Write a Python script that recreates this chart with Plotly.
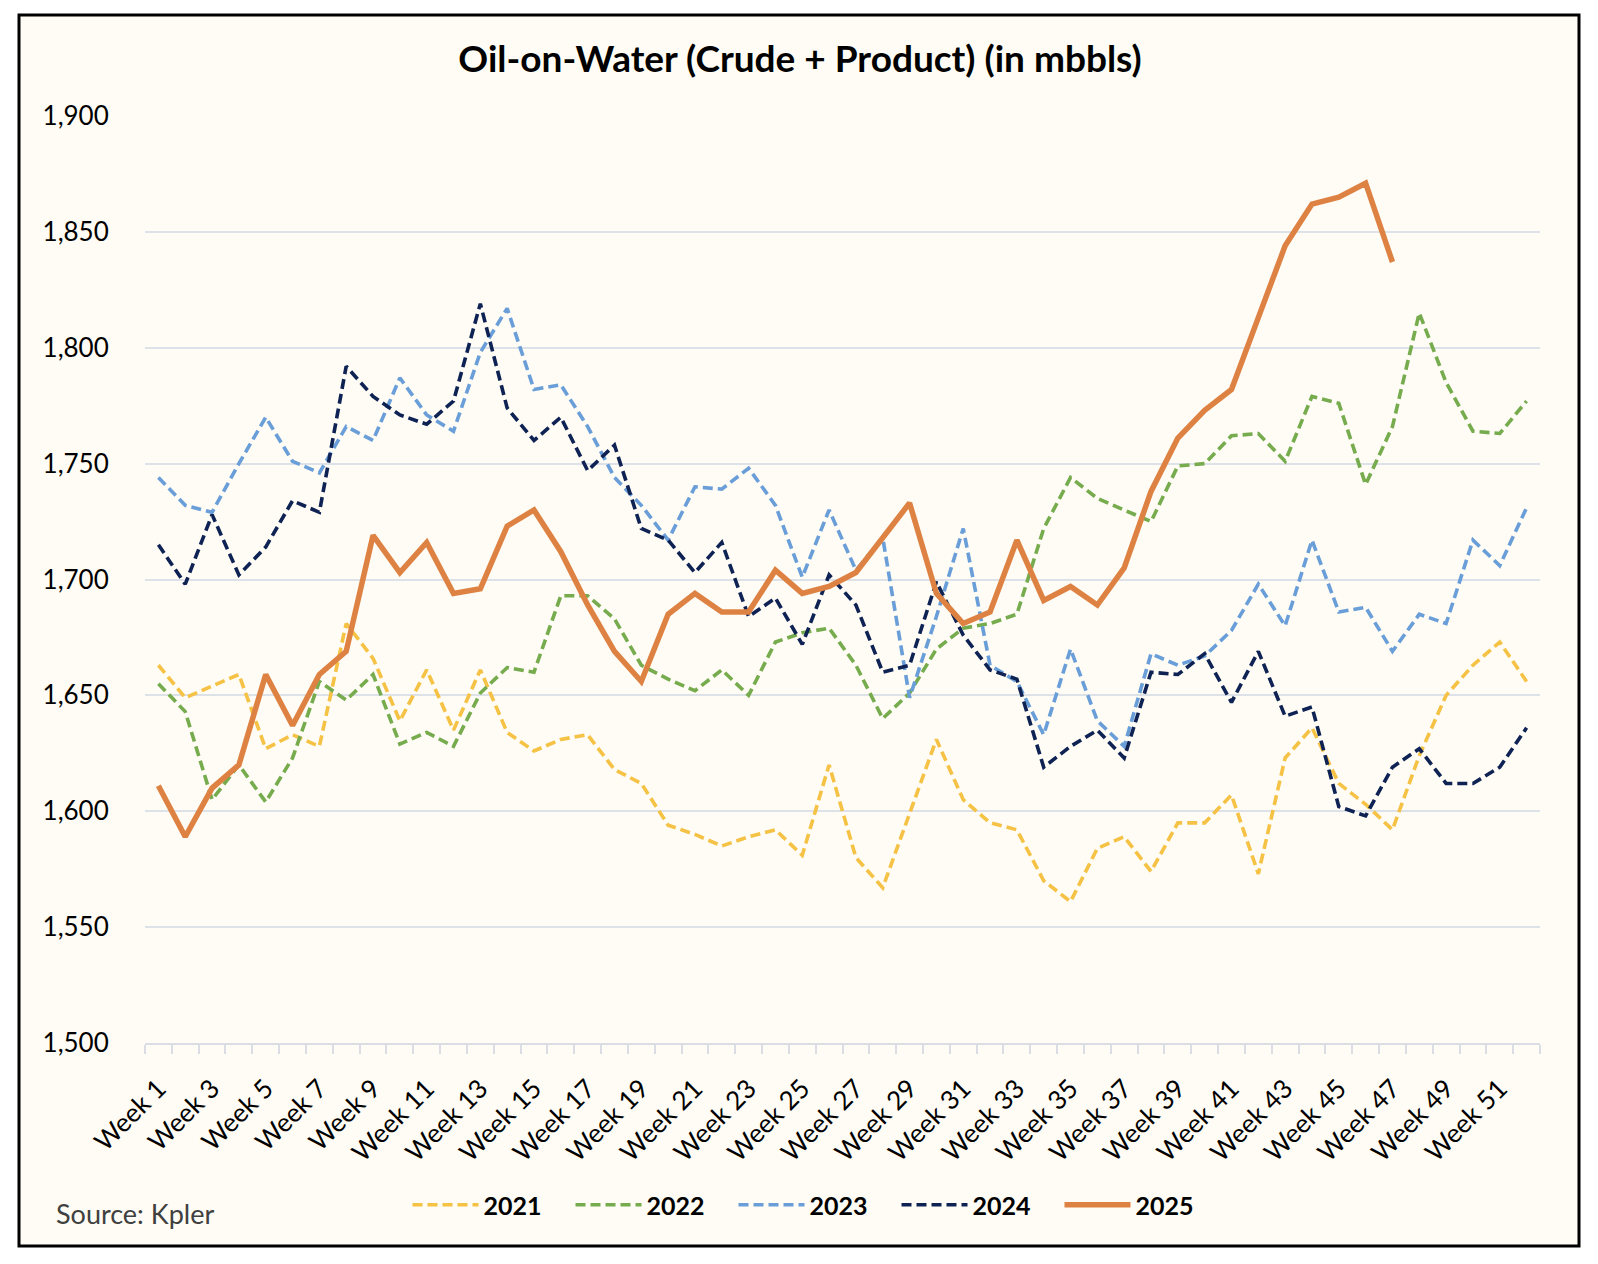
import plotly.graph_objects as go

weeks = [f"Week {i}" for i in range(1, 53)]

y2021 = [1663, 1649, 1654, 1659, 1627, 1633, 1628, 1681, 1666, 1639, 1661, 1635, 1661,
         1634, 1626, 1631, 1633, 1618, 1612, 1594, 1590, 1585, 1589, 1592, 1581, 1620,
         1580, 1567, 1599, 1631, 1605, 1595, 1592, 1570, 1561, 1584, 1589, 1574, 1595,
         1595, 1607, 1573, 1623, 1636, 1612, 1603, 1592, 1624, 1650, 1663, 1673, 1656]
y2022 = [1655, 1643, 1605, 1620, 1604, 1623, 1656, 1648, 1659, 1629, 1634, 1628, 1651,
         1662, 1660, 1693, 1693, 1683, 1663, 1657, 1652, 1661, 1650, 1673, 1677, 1679,
         1663, 1640, 1651, 1670, 1679, 1681, 1685, 1722, 1744, 1735, 1730, 1725, 1749,
         1750, 1762, 1763, 1751, 1779, 1776, 1741, 1766, 1815, 1785, 1764, 1763, 1777]
y2023 = [1744, 1732, 1729, 1750, 1770, 1751, 1746, 1766, 1760, 1787, 1771, 1764, 1798,
         1817, 1782, 1784, 1766, 1744, 1732, 1717, 1740, 1739, 1748, 1732, 1701, 1730,
         1704, 1718, 1649, 1684, 1722, 1663, 1656, 1633, 1670, 1639, 1628, 1668, 1663,
         1667, 1678, 1698, 1680, 1717, 1686, 1688, 1669, 1685, 1681, 1717, 1706, 1731]
y2024 = [1715, 1698, 1728, 1702, 1714, 1734, 1729, 1792, 1779, 1771, 1767, 1777, 1819,
         1774, 1760, 1770, 1747, 1758, 1722, 1717, 1703, 1716, 1684, 1692, 1672, 1702,
         1689, 1660, 1663, 1699, 1676, 1661, 1657, 1619, 1628, 1635, 1623, 1660, 1659,
         1668, 1647, 1669, 1641, 1645, 1602, 1598, 1619, 1627, 1612, 1612, 1619, 1636]
y2025 = [1611, 1589, 1610, 1620, 1659, 1637, 1659, 1669, 1719, 1703, 1716, 1694, 1696,
         1723, 1730, 1712, 1689, 1669, 1656, 1685, 1694, 1686, 1686, 1704, 1694, 1697,
         1703, 1718, 1733, 1694, 1681, 1686, 1717, 1691, 1697, 1689, 1705, 1738, 1761,
         1773, 1782, 1813, 1844, 1862, 1865, 1871, 1837]

series = [
    ("2021", y2021, "#F5C245", "dash"),
    ("2022", y2022, "#76AB4E", "dash"),
    ("2023", y2023, "#6A9ED8", "dash"),
    ("2024", y2024, "#0E2254", "dash"),
    ("2025", y2025, "#DE8243", "solid"),
]

y_ticks = list(range(1500, 1901, 50))
tick_text_x = [w if i % 2 == 0 else "" for i, w in enumerate(weeks)]

FONT = "Lato"
CREAM = "#FEFCF4"

fig = go.Figure()
for name, vals, color, style in series:
    if style == "dash":
        line = dict(color=color, width=3.6, dash="10px,5px")
    else:
        line = dict(color=color, width=5.5)
    fig.add_trace(go.Scatter(
        x=weeks[:len(vals)], y=vals, name=name, mode="lines", line=line,
    ))

# page has an 8px body margin: lay out in page pixels, offset by 8
OFF = 8
W, H = 1598 - OFF, 1264 - OFF
L, T = 145 - OFF, 116 - OFF
R = W - (1540 - OFF)
B = H - (1043 - OFF)
pw, ph = W - L - R, H - T - B


def px_x(px):
    return (px - OFF - L) / pw


def px_y(py):
    return (H - B - (py - OFF)) / ph


fig.add_shape(type="rect", xref="paper", yref="paper",
              x0=px_x(19), x1=px_x(1579), y0=px_y(1246), y1=px_y(15),
              line=dict(color="black", width=3), fillcolor=CREAM, layer="below")

fig.add_annotation(text="Source: Kpler", xref="paper", yref="paper",
                   x=px_x(54), y=px_y(1213), xanchor="left", yanchor="middle",
                   showarrow=False, font=dict(family=FONT, size=27, color="#404040"))

fig.update_layout(
    width=W, height=H,
    margin=dict(l=L, r=R, t=T, b=B, autoexpand=False),
    paper_bgcolor="white",
    plot_bgcolor="rgba(0,0,0,0)",
    title=dict(text="<b>Oil-on-Water (Crude + Product) (in mbbls)</b>",
               x=px_x(800), xref="paper", xanchor="center",
               y=1 - (59 - OFF) / H, yref="container", yanchor="middle",
               font=dict(family=FONT, size=37, color="black")),
    font=dict(family=FONT, size=26, color="black"),
    legend=dict(orientation="h", x=px_x(815), xanchor="center",
                y=px_y(1205), yanchor="middle",
                font=dict(family=FONT, size=25, color="black", weight="bold"),
                itemwidth=66, bgcolor="rgba(0,0,0,0)", entrywidth=82),
    xaxis=dict(
        type="category", tickmode="array", tickvals=weeks, ticktext=tick_text_x,
        tickangle=-45, tickson="boundaries", ticks="outside", ticklen=9,
        tickwidth=2, tickcolor="#DADDE3", showline=True, linecolor="#DADDE3",
        linewidth=2, showgrid=False, range=[-0.5, 51.5], ticklabelstandoff=18,
        tickfont=dict(family=FONT, size=26, color="black"),
    ),
    yaxis=dict(
        range=[1500, 1900], tickvals=y_ticks, tickformat=",",
        showgrid=True, gridcolor="#DDE1E8", gridwidth=2, zeroline=False,
        ticks="outside", ticklen=30, tickcolor="rgba(0,0,0,0)",
        tickfont=dict(family=FONT, size=26, color="black"),
    ),
    showlegend=True,
)

fig.write_html("out.html")
